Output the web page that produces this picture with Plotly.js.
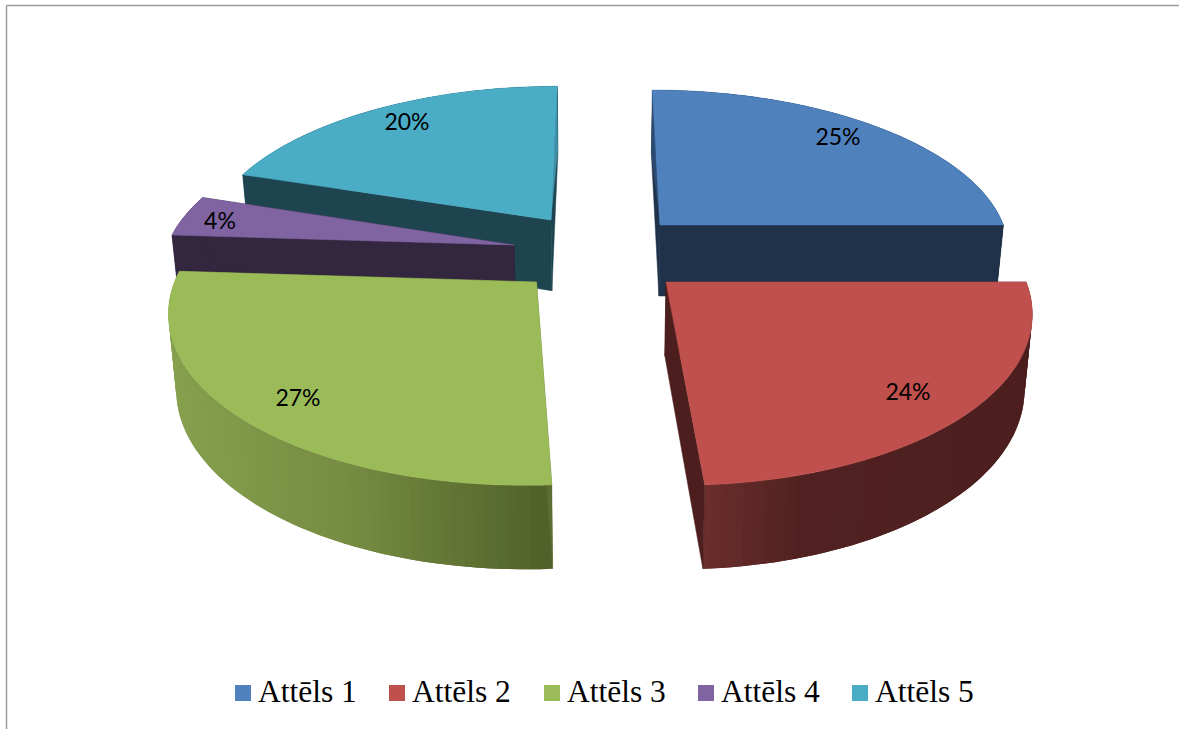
<!DOCTYPE html>
<html>
<head>
<meta charset="utf-8">
<script src="https://cdn.plot.ly/plotly-3.0.1.min.js"></script>
<style>html,body{margin:0;padding:0;background:#fff}#chart{width:1179px;height:729px}</style>
</head>
<body>
<div id="chart"></div>
<script>
// Series
const names = ['Attēls 1', 'Attēls 2', 'Attēls 3', 'Attēls 4', 'Attēls 5'];
const shares = [25, 24, 27, 4, 20];

// Colours of the top faces and of the side walls
const topColors = ['#4F81BD', '#C0504D', '#9BBB59', '#8064A2', '#4BACC6'];
const wallColors = ['#1F3249', '#4C1F1E', '#5D6E33', '#33273F', '#1D444F'];
// Lit part of the narrow cut wall seen beside the back slices
const sliverColors = {0: '#2B4B72', 4: '#3E8DA3'};

// Outer wall shading, [screen x, r, g, b] stops, for the two slices facing the viewer
const wallShade = {
  1: [[705, 107, 46, 44], [800, 80, 33, 32], [1040, 76, 31, 30]],
  2: [[170, 135, 161, 79], [350, 118, 140, 66], [552, 79, 96, 40]]
};

// Where each slice's apex lands after explosion
const apexX = [660, 666, 536.5, 514, 551];
const apexY = [225, 282, 282, 245, 220];
// Slight per-slice differences in the drawn radius
const radiusScale = [0.997, 0.992, 0.997, 0.988, 0.995];

// Back-to-front painting order
const paintOrder = [4, 3, 0, 2, 1];

// Perspective camera of the disc
const horizonY = -830, vanishX = 600, radiusPerW = 0.3265, depthQ = 1.39e-4;

function project(i, deg) {
  const a = deg * Math.PI / 180;
  const u = Math.sin(a), v = Math.cos(a);
  const wc = apexY[i] - horizonY;
  const w = 1 / (1 / wc + v * depthQ);
  return {
    x: vanishX + w * ((apexX[i] - vanishX) / wc + radiusPerW * radiusScale[i] * u),
    y: horizonY + w,
    w: w
  };
}
function apex(i) {
  return {x: apexX[i], y: apexY[i], w: apexY[i] - horizonY};
}
// The lower rim of the disc sits below and slightly behind the top face
function lower(p) {
  return {
    x: vanishX + (p.x - vanishX) * 0.982,
    y: p.y + 71 + (p.w - 1055) * 0.05
  };
}
function shade(i, x) {
  const stops = wallShade[i];
  if (!stops) return wallColors[i];
  let k = 0;
  while (k < stops.length - 2 && x > stops[k + 1][0]) k++;
  const s0 = stops[k], s1 = stops[k + 1];
  const f = Math.max(0, Math.min(1, (x - s0[0]) / (s1[0] - s0[0])));
  const c = [1, 2, 3].map(j => Math.round(s0[j] + (s1[j] - s0[j]) * f));
  return 'rgb(' + c.join(',') + ')';
}
function poly(points, color, edge) {
  return {
    type: 'scatter', mode: 'lines', fill: 'toself', fillcolor: color,
    x: points.map(p => p.x), y: points.map(p => p.y),
    line: {color: color, width: edge, simplify: false}, hoverinfo: 'skip', showlegend: false
  };
}

const traces = [];
let acc = 0;
const startDeg = [], endDeg = [];
shares.forEach((s, i) => {
  startDeg[i] = acc * 3.6;
  acc += s;
  endDeg[i] = acc * 3.6;
});

paintOrder.forEach(i => {
  const a0 = startDeg[i], a1 = endDeg[i];
  const c = apex(i);
  // outer wall in overlapping strips, each one reaching under the next, so the shading has no seams
  const step = 1.5;
  for (let d = a0; d < a1; d += step) {
    const e = Math.min(d + 2 * step, a1);
    const p = project(i, d), m = project(i, Math.min(d + step, a1)), q = project(i, e);
    const pb = lower(p), mb = lower(m), qb = lower(q);
    traces.push(poly([p, m, q, qb, mb, pb, p], shade(i, (pb.x + mb.x) / 2), 0));
  }
  // the two cut walls
  [a0, a1].forEach(d => {
    const p = project(i, d);
    traces.push(poly([c, p, lower(p), lower(c), c], wallColors[i], 0.5));
  });
  // lit sliver beside the back slices
  if (sliverColors[i]) {
    const p = project(i, i === 0 ? a0 : a1);
    traces.push(poly([p, c, lower(p), p], sliverColors[i], 0));
  }
  // top face
  const top = [c];
  for (let d = a0; d <= a1 + 1e-6; d += 1) top.push(project(i, Math.min(d, a1)));
  top.push(project(i, a1), c);
  traces.push(poly(top, topColors[i], 0.5));
});

// Percentage labels
const labelX = [838, 908, 298, 220, 407];
const labelY = [139, 394, 400, 223, 124];
traces.push({
  type: 'scatter', mode: 'text', x: labelX, y: labelY,
  text: shares.map(s => s + '%'), textposition: 'middle center',
  textfont: {family: 'Lato, Carlito, sans-serif', size: 23, color: '#000'},
  hoverinfo: 'skip', showlegend: false
});

// Key along the bottom of the chart
const keyX = [243, 397, 552, 706, 860];
const keyTextX = [258, 412, 567, 721, 875];
const keyY = 693;
const keyTextY = 694.5;
names.forEach((n, i) => {
  traces.push({
    type: 'scatter', mode: 'markers', x: [keyX[i]], y: [keyY],
    marker: {symbol: 'square', size: 16, color: topColors[i]},
    name: n, hoverinfo: 'skip', showlegend: false
  });
  traces.push({
    type: 'scatter', mode: 'text', x: [keyTextX[i]], y: [keyTextY],
    text: [n], textposition: 'middle right',
    textfont: {family: '"Liberation Serif", "Times New Roman", serif', size: 31.5, color: '#000'},
    hoverinfo: 'skip', showlegend: false
  });
});

Plotly.newPlot('chart', traces, {
  width: 1179, height: 729, autosize: false,
  margin: {l: 0, r: 0, t: 0, b: 0},
  paper_bgcolor: '#fff', plot_bgcolor: '#fff',
  showlegend: false,
  xaxis: {range: [0, 1179], visible: false, fixedrange: true},
  yaxis: {range: [729, 0], visible: false, fixedrange: true},
  shapes: [
    {type: 'line', xref: 'x', yref: 'y', x0: 6.5, x1: 1179, y0: 5.5, y1: 5.5, line: {color: '#9a9a9a', width: 1.5}},
    {type: 'line', xref: 'x', yref: 'y', x0: 6.5, x1: 6.5, y0: 5.5, y1: 729, line: {color: '#9a9a9a', width: 1.5}}
  ]
}, {displayModeBar: false, staticPlot: true});
</script>
</body>
</html>
